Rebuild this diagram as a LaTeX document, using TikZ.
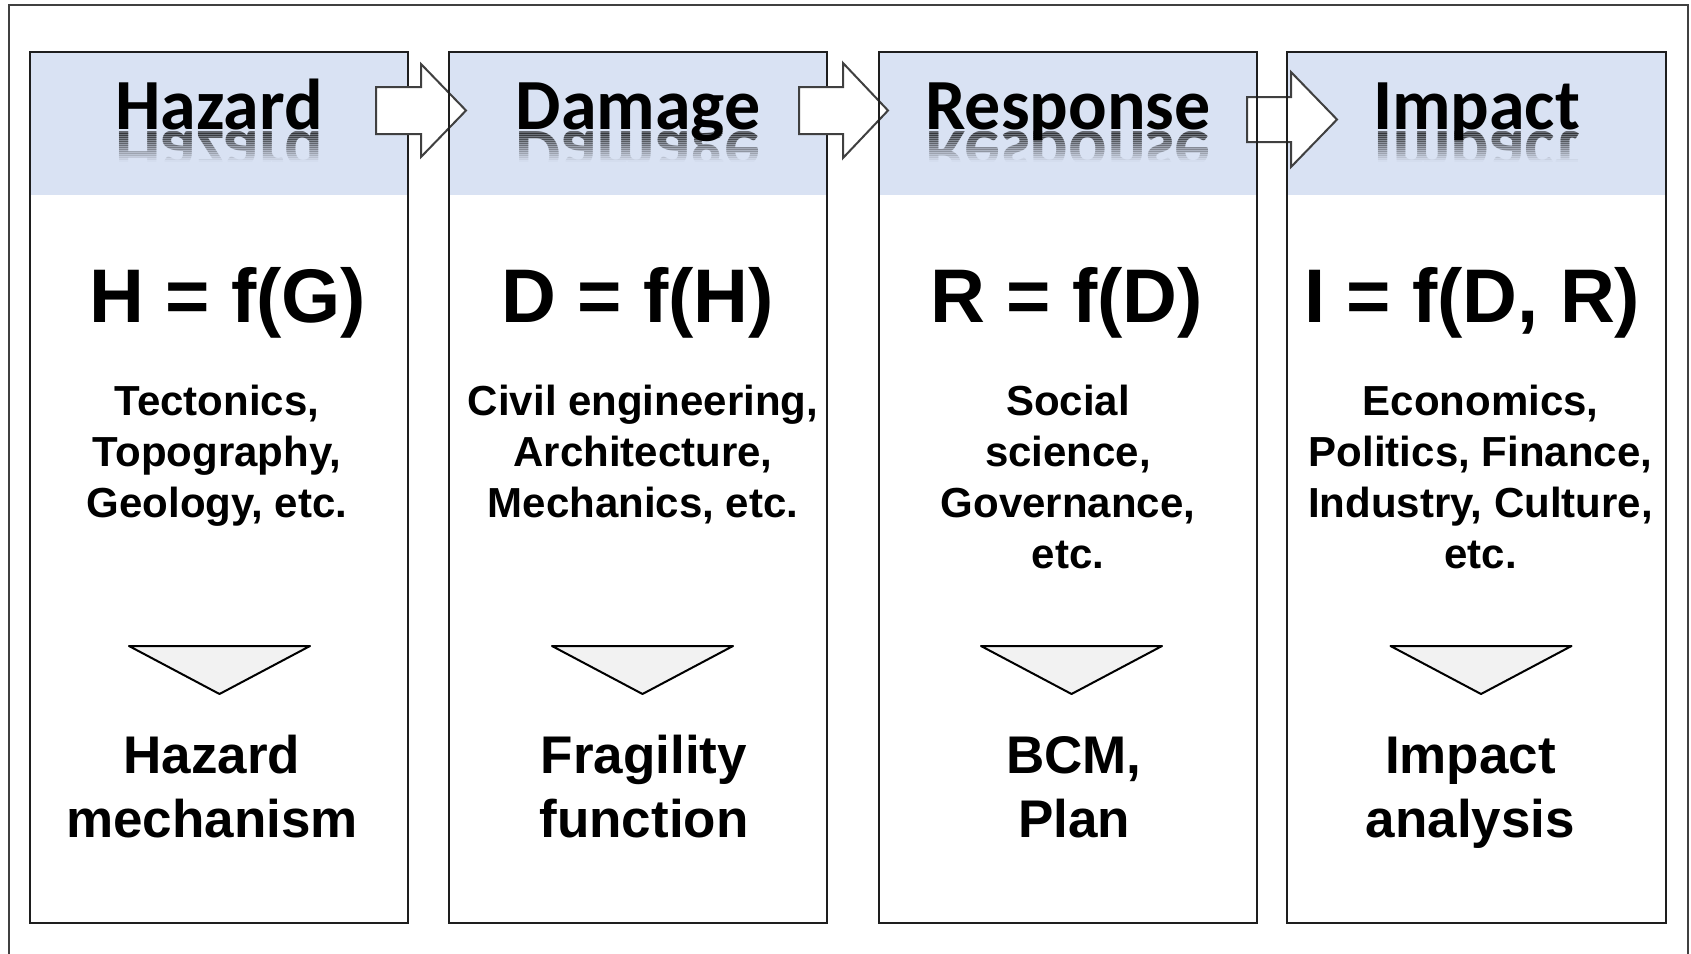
\documentclass[tikz,border=0pt]{standalone}
\usepackage{fontspec}
\setmainfont{Liberation Sans}
\newfontfamily\titlefam{Carlito}
\usetikzlibrary{calc}

\definecolor{headblue}{RGB}{217,226,243}
\definecolor{edgegray}{RGB}{30,30,30}
\definecolor{framegray}{RGB}{64,64,64}
\definecolor{trigray}{RGB}{242,242,242}

% stacked, centred lines whose baseline is the first line
\newcommand\stack[1]{\begin{tabular}[t]{@{}c@{}}#1\end{tabular}}

% title with a fading mirror image below its baseline
\newcommand\mirrortitle[2]{%
  \foreach \k [evaluate=\k as \op using {0.55*(1-(\k+0.5)/15)}] in {0,...,14}{%
    \begin{scope}
      \clip ($(#1.base)+(-220,2+2*\k)$) rectangle ($(#1.base)+(220,4+2*\k)$);
      \node[titletext, yscale=-1, opacity=\op] (#1m\k) at ($(#1.base)+(0,2)$) {#2};
    \end{scope}
  }%
}

\begin{document}
\begin{tikzpicture}[x=1pt, y=-1pt,
  panel/.style={fill=white, minimum width=378pt, minimum height=871pt,
    inner sep=0, anchor=north west, outer sep=0,
    path picture={\fill[headblue] (path picture bounding box.north west)
      rectangle ([yshift=-143pt]path picture bounding box.north east);}},
  edge/.style={draw=edgegray, line width=2pt},
  frame/.style={draw=framegray, line width=2pt},
  blockarrow/.style={draw=framegray, line width=2pt, fill=white, line join=miter},
  tri/.style={draw=black, line width=2pt, fill=trigray, line join=round},
  titletext/.style={font=\titlefam\fontsize{72}{80}\selectfont\bfseries, anchor=base, inner sep=0},
  formula/.style={font=\fontsize{76}{90}\selectfont\bfseries, anchor=base, inner sep=0},
  desc/.style={font=\fontsize{42}{51}\selectfont\bfseries, anchor=base, inner sep=0},
  outcome/.style={font=\fontsize{53}{64}\selectfont\bfseries, anchor=base, inner sep=0},
]
\useasboundingbox (0,0) rectangle (1691,953);

% outer frame (open at the bottom edge of the page)
\draw[frame] (9,975) -- (9,5) -- (1688,5) -- (1688,975);

% the four stage panels
\node[panel] (b1) at (30,52) {};
\node[panel] (b2) at (449,52) {};
\node[panel] (b3) at (879,52) {};
\node[panel, minimum width=379pt] (b4) at (1287,52) {};
\foreach \b in {b1,b2,b3,b4}
  \draw[edge] (\b.north west) rectangle (\b.south east);

% block arrows between the panels
\draw[blockarrow] ($(b1.north east)+(-32,35)$) -- ++(45,0) -- ++(0,-23)
  -- ++(45,46.5) -- ++(-45,46.5) -- ++(0,-23) -- ++(-45,0) -- cycle;
\draw[blockarrow] ($(b2.north east)+(-28,35)$) -- ++(44,0) -- ++(0,-24)
  -- ++(45,47.5) -- ++(-45,47.5) -- ++(0,-24) -- ++(-44,0) -- cycle;
\draw[blockarrow] ($(b3.north east)+(-10,45)$) -- ++(44,0) -- ++(0,-25)
  -- ++(46,47.5) -- ++(-46,47.5) -- ++(0,-25) -- ++(-44,0) -- cycle;
\draw[edge] (b2.north west) -- (b2.south west);
\draw[edge] (b3.north west) -- (b3.south west);
\draw[edge] (b3.north east) -- (b3.south east);
\draw[edge] (b4.north west) -- (b4.south west);

% headings
\node[titletext] (t1) at ($(b1.north)+(0,77)$) {Hazard};
\node[titletext] (t2) at ($(b2.north)+(0,77)$) {Damage};
\node[titletext] (t3) at ($(b3.north)+(0,77)$) {Response};
\node[titletext] (t4) at ($(b4.north)+(0,77)$) {Impact};
\mirrortitle{t1}{Hazard}
\mirrortitle{t2}{Damage}
\mirrortitle{t3}{Response}
\mirrortitle{t4}{Impact}

% functional relations
\node[formula] (f1) at ($(b1.north)+(9,270)$) {H = f(G)};
\node[formula] (f2) at ($(b2.north)+(0,270)$) {D = f(H)};
\node[formula] (f3) at ($(b3.north)+(-1,270)$) {R = f(D)};
\node[formula] (f4) at ($(b4.north)+(-4,270)$) {I = f(D, R)};

% disciplines
\node[desc] (d1) at ($(b1.north)+(-2,363)$) {\stack{Tectonics,\\Topography,\\Geology, etc.}};
\node[desc] (d2) at ($(b2.north)+(5,363)$) {\stack{Civil engineering,\\Architecture,\\Mechanics, etc.}};
\node[desc] (d3) at ($(b3.north)+(0,363)$) {\stack{Social\\science,\\Governance,\\etc.}};
\node[desc] (d4) at ($(b4.north)+(4,363)$) {\stack{Economics,\\Politics, Finance,\\Industry, Culture,\\etc.}};

% downward triangles
\draw[tri] ($(b1.north)+(-90,594)$) -- ++(181,0) -- ++(-90.5,48) -- cycle;
\draw[tri] ($(b2.north)+(-86,594)$) -- ++(181,0) -- ++(-90.5,48) -- cycle;
\draw[tri] ($(b3.north)+(-87,594)$) -- ++(181,0) -- ++(-90.5,48) -- cycle;
\draw[tri] ($(b4.north)+(-86,594)$) -- ++(181,0) -- ++(-90.5,48) -- cycle;

% outcomes
\node[outcome] (o1) at ($(b1.north)+(-7,721)$) {\stack{Hazard\\mechanism}};
\node[outcome] (o2) at ($(b2.north)+(6,721)$) {\stack{Fragility\\function}};
\node[outcome] (o3) at ($(b3.north)+(6,721)$) {\stack{BCM,\\Plan}};
\node[outcome] (o4) at ($(b4.north)+(-6,721)$) {\stack{Impact\\analysis}};
\end{tikzpicture}
\end{document}
